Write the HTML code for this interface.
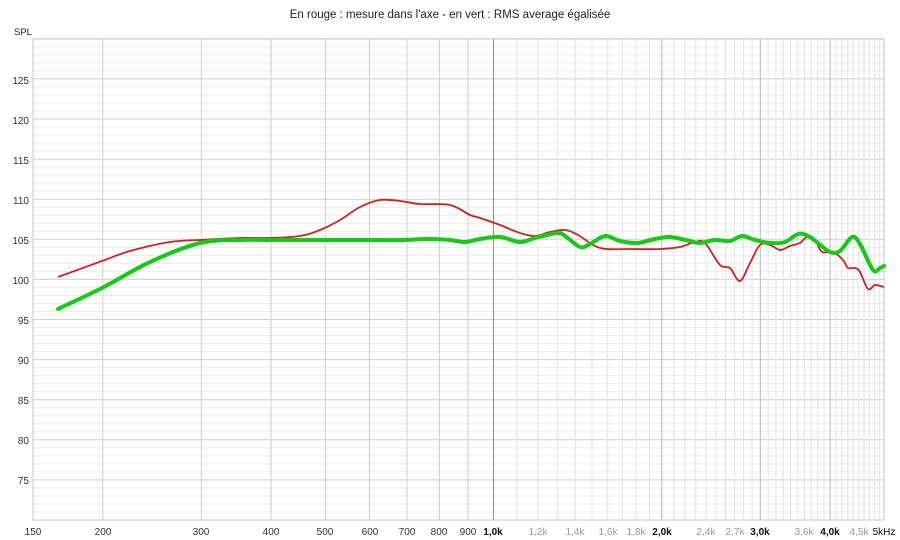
<!DOCTYPE html>
<html><head><meta charset="utf-8">
<style>
html,body{margin:0;padding:0;background:#fff;}
svg{display:block;font-family:"Liberation Sans",sans-serif;}
</style></head>
<body>
<svg id="s" width="900" height="540" xmlns="http://www.w3.org/2000/svg">
<rect width="900" height="540" fill="#fff"/>
<g id="grid"></g>
<rect x="33" y="39" width="851" height="481" fill="none" stroke="#c8c8c8"/>
<text x="450" y="18" font-size="11.5" text-anchor="middle" fill="#222">En rouge : mesure dans l'axe - en vert : RMS average égalisée</text>
<text x="14" y="35" font-size="9.5" fill="#222">SPL</text>
<g font-size="10" fill="#333" text-anchor="end">
<text x="29" y="84">125</text><text x="29" y="124">120</text><text x="29" y="164">115</text>
<text x="29" y="204">110</text><text x="29" y="244">105</text><text x="29" y="284">100</text>
<text x="29" y="324">95</text><text x="29" y="364">90</text><text x="29" y="404">85</text>
<text x="29" y="444">80</text><text x="29" y="484">75</text>
</g>
<g font-size="10" fill="#333" text-anchor="middle">
<text x="33" y="535">150</text><text x="103" y="535">200</text><text x="201" y="535">300</text>
<text x="271" y="535">400</text><text x="325" y="535">500</text><text x="370" y="535">600</text>
<text x="407" y="535">700</text><text x="439" y="535">800</text><text x="468" y="535">900</text>
<text x="493" y="535" fill="#111" font-weight="bold">1,0k</text>
<text x="538" y="535" fill="#999">1,2k</text><text x="575" y="535" fill="#999">1,4k</text>
<text x="608" y="535" fill="#999">1,6k</text><text x="636" y="535" fill="#999">1,8k</text>
<text x="662" y="535" fill="#111" font-weight="bold">2,0k</text>
<text x="706" y="535" fill="#999">2,4k</text><text x="735" y="535" fill="#999">2,7k</text>
<text x="760" y="535" fill="#111" font-weight="bold">3,0k</text>
<text x="804" y="535" fill="#999">3,6k</text>
<text x="830" y="535" fill="#111" font-weight="bold">4,0k</text>
<text x="859" y="535" fill="#999">4,5k</text>
<text x="884" y="535" fill="#111">5kHz</text>
</g>
<path id="red" fill="none" stroke="#cc2222" stroke-width="1.8" stroke-linejoin="round"/>
<path id="green" fill="none" stroke="#11cc11" stroke-width="4" stroke-linejoin="round" stroke-linecap="round"/>
</svg>
<script>
(function(){
var g=document.getElementById('grid'),ns='http://www.w3.org/2000/svg';
function L(x1,y1,x2,y2,c){var l=document.createElementNS(ns,'line');l.setAttribute('x1',x1);l.setAttribute('y1',y1);l.setAttribute('x2',x2);l.setAttribute('y2',y2);l.setAttribute('stroke',c);l.setAttribute('stroke-width',1);g.appendChild(l);}
function X(f){return 33+559*Math.log10(f/150);}
for(var v=70;v<=130;v++){var y=520-(v-70)*8.02;L(33,y,884,y,v%5==0?'#cfcfcf':'#ececec');}
var f;
for(f=200;f<1000;f+=100)L(X(f),39,X(f),520,'#cfcfcf');
for(f=1100;f<5000;f+=100){if(f%1000==0)continue;L(X(f),39,X(f),520,'#e4e4e4');}
[2000,3000,4000].forEach(function(f){L(X(f),39,X(f),520,'#b8b8b8');});
L(X(1000),39,X(1000),520,'#888');
function smooth(s){var p=s.trim().split(/\s+/).map(function(t){return t.split(',').map(Number);});
var d='M'+p[0][0]+','+p[0][1];
for(var i=0;i<p.length-1;i++){var p0=p[i-1]||p[i],p1=p[i],p2=p[i+1],p3=p[i+2]||p2;
d+=' C'+(p1[0]+(p2[0]-p0[0])/6)+','+(p1[1]+(p2[1]-p0[1])/6)+' '+(p2[0]-(p3[0]-p1[0])/6)+','+(p2[1]-(p3[1]-p1[1])/6)+' '+p2[0]+','+p2[1];}
return d;}
document.getElementById('red').setAttribute('d',smooth("58,277 102,261 130,251 170,242 200,240 240,238 270,238 300,236 320,230 340,220 360,207 380,200 400,201 420,204 450,205 470,215 480,218 500,225 520,233 535,236 550,232 565,230 578,235 600,248 630,249 660,249 680,247 695,242 705,243 720,265 730,268 740,281 750,263 760,245 770,245 780,250 790,246 800,243 808,236 815,240 822,252 833,252 843,260 848,268 855,268 860,272 868,289 875,285 884,287"));
document.getElementById('green').setAttribute('d',smooth("58,309 102,288 150,262 200,243 240,240 270,240 300,240 330,240 370,240 400,240 430,239 450,240 465,242 480,239 500,237 520,242 535,238 557,233 565,236 580,247 590,244 605,236 620,241 637,243 655,239 670,237 690,241 700,243 715,240 730,241 742,236 755,240 770,243 785,242 798,234 808,236 818,243 830,252 840,251 852,237 860,244 873,270 880,268 884,266"));
})();
</script>
</body></html>
